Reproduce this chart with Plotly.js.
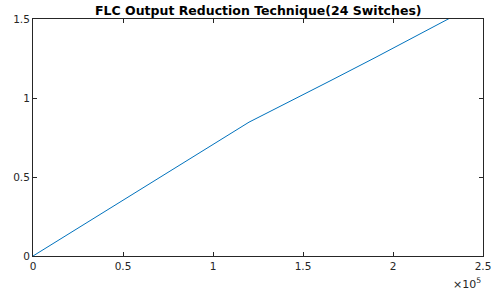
<!DOCTYPE html>
<html>
<head>
<meta charset="utf-8">
<script src="https://cdn.plot.ly/plotly-3.0.1.min.js"></script>
<style>html,body{margin:0;padding:0;background:#fff;}#chart{width:492px;height:291px;}</style>
</head>
<body>
<div id="chart"></div>
<script>
const xValues = [0, 30000, 60000, 87000, 105000, 115000, 120000, 130000, 148000, 165000, 190000, 210000, 230000, 235000];
const yValues = [0, 0.213, 0.426, 0.614, 0.745, 0.815, 0.847, 0.905, 1.008, 1.108, 1.255, 1.375, 1.496, 1.526];
const xTickVals = [0, 50000, 100000, 150000, 200000, 250000];
const xTickText = ['0', '0.5', '1', '1.5', '2', '2.5'];
const yTickVals = [0, 0.5, 1, 1.5];
const yTickText = ['0', '0.5', '1', '1.5'];
const titleText = 'FLC Output Reduction Technique(24 Switches)';
const exponentText = '×10<sup>5</sup>';

const FONT = 'DejaVu Sans, Liberation Sans, Arial, sans-serif';
const axisCommon = {
  showgrid: false, zeroline: false, showline: true, mirror: 'allticks',
  linecolor: '#262626', linewidth: 1, ticks: 'inside', ticklen: 4, tickwidth: 1,
  tickcolor: '#262626', tickfont: {family: FONT, size: 10.5, color: '#262626'}
};

Plotly.newPlot('chart', [{
  x: xValues, y: yValues, type: 'scatter', mode: 'lines',
  line: {color: '#0072BD', width: 1}, cliponaxis: true, hoverinfo: 'none'
}], {
  width: 492, height: 291,
  margin: {l: 33, r: 9, t: 19, b: 35},
  paper_bgcolor: '#fff', plot_bgcolor: '#fff',
  showlegend: false,
  title: {text: '<b>' + titleText + '</b>', x: 0.525, xanchor: 'center', y: 0.978, yanchor: 'top',
    font: {family: FONT, size: 12.5, color: '#000'}},
  xaxis: Object.assign({}, axisCommon, {range: [0, 250000], tickvals: xTickVals, ticktext: xTickText}),
  yaxis: Object.assign({}, axisCommon, {range: [0, 1.5], tickvals: yTickVals, ticktext: yTickText}),
  annotations: [{
    text: exponentText, xref: 'paper', yref: 'paper', x: 1, y: 0, xanchor: 'right', yanchor: 'top',
    yshift: -18, showarrow: false, font: {family: FONT, size: 11, color: '#262626'}
  }]
}, {staticPlot: true});
</script>
</body>
</html>
